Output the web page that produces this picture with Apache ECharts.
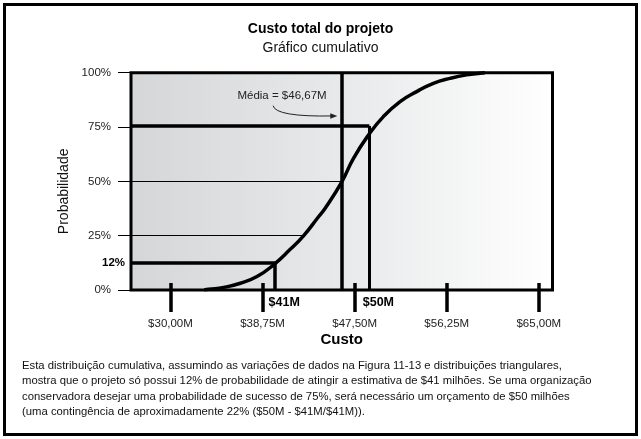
<!DOCTYPE html>
<html><head><meta charset="utf-8">
<script src="https://cdn.jsdelivr.net/npm/echarts@6/dist/echarts.min.js"></script>
<style>html,body{margin:0;padding:0;background:#fff}#c{width:641px;height:439px}</style>
</head><body><div id="c"></div>
<script>
// ---- data ----
const titleText = 'Custo total do projeto';
const subtitleText = 'Gráfico cumulativo';
const xTickValues = [30, 38.75, 47.5, 56.25, 65];
const xTickLabels = ['$30,00M', '$38,75M', '$47,50M', '$56,25M', '$65,00M'];
const yTickValues = [0, 25, 50, 75, 100];
// cumulative curve (cost in $M, probability %)
const curveX = [33.2, 33.63, 35.06, 36.64, 38.22, 39.80, 41.38, 42.64, 44.07, 44.70, 46.28, 47.39, 48.81, 50.23, 51.82, 53.40, 54.98, 56.56, 58.14, 59.88];
const curveP = [0, 0.3, 1.2, 3.1, 6.2, 11.6, 18.7, 24.9, 33.7, 37.6, 49.8, 60.6, 71.3, 79.8, 86.7, 91.3, 95.1, 97.4, 99.0, 100];
const meanCost = 46.28;     const meanLabel = 'Média = $46,67M';
const lowCost = 39.95;      const lowProb = 12.6;  const lowCostLabel = '$41M'; const lowProbLabel = '12%';
const highCost = 48.9;      const highProb = 75.5; const highCostLabel = '$50M';
const grid25Cost = 42.64;   // where 25% line meets curve
const captionLines = [
  'Esta distribuição cumulativa, assumindo as variações de dados na Figura 11-13 e distribuições triangulares,',
  'mostra que o projeto só possui 12% de probabilidade de atingir a estimativa de $41 milhões. Se uma organização',
  'conservadora desejar uma probabilidade de sucesso de 75%, será necessário um orçamento de $50 milhões',
  '(uma contingência de aproximadamente 22% ($50M - $41M/$41M)).'
];
// annotation arrow (data coords): start, control, end
const arrowStart = [39.75, 84.8], arrowCtrl = [40.0, 79.6], arrowEnd = [45.85, 80.1];
// ---- chart ----
const XMIN = 26.25, XMAX = 66.3;
const FONT = "'Liberation Sans', Arial, sans-serif";
const chart = echarts.init(document.getElementById('c'), null, {renderer: 'canvas'});
const thick = {color: '#000', width: 3.5, type: 'solid'};
const mid = {color: '#000', width: 3, type: 'solid'};
const thin = {color: '#000', width: 1, type: 'solid'};
const bold12 = {fontWeight: 'bold', fontSize: 12.5, color: '#000', fontFamily: FONT};
const markData = [
  [{coord: [XMIN, 25], lineStyle: thin}, {coord: [grid25Cost, 25]}],
  [{coord: [XMIN, 50], lineStyle: thin}, {coord: [meanCost, 50]}],
  [{coord: [meanCost, 0], lineStyle: thick}, {coord: [meanCost, 100]}],
  [{coord: [XMIN, highProb], lineStyle: thick}, {coord: [highCost, highProb]}],
  [{coord: [highCost, 0], lineStyle: mid,
    label: Object.assign({show: true, position: 'start', formatter: highCostLabel, offset: [9, 2], distance: 4}, bold12)},
   {coord: [highCost, highProb]}],
  [{coord: [lowCost, 0], lineStyle: thick,
    label: Object.assign({show: true, position: 'start', formatter: lowCostLabel, offset: [9, 2], distance: 4}, bold12)},
   {coord: [lowCost, lowProb]}],
  [{coord: [XMIN, lowProb], lineStyle: thick,
    label: {show: true, position: 'start', formatter: lowProbLabel, fontWeight: 'bold', fontSize: 11.5, color: '#000', fontFamily: FONT, distance: 6}},
   {coord: [lowCost, lowProb]}]
];
const baseGraphic = [
  {id: 'frame', type: 'rect', shape: {x: 4.5, y: 4.5, width: 632, height: 430}, style: {fill: 'none', stroke: '#000', lineWidth: 3}, z: 100},
  {id: 'caption', type: 'text', left: 22, top: 358, style: {text: captionLines.join('\n'), font: "11.3px 'Liberation Sans', Arial, sans-serif", lineHeight: 15.5, fill: '#111'}}
];
chart.setOption({
  animation: false,
  title: {
    text: titleText, subtext: subtitleText, left: 'center', top: 17, itemGap: 5,
    textStyle: {fontFamily: FONT, fontWeight: 'bold', fontSize: 14, color: '#000'},
    subtextStyle: {fontFamily: FONT, fontSize: 14, color: '#111'}
  },
  grid: {left: 131, right: 88.5, top: 72.7, bottom: 149, show: true, borderColor: '#000', borderWidth: 3,
    backgroundColor: new echarts.graphic.LinearGradient(0, 0, 1, 0, [
      {offset: 0, color: '#d5d6d8'}, {offset: 0.5, color: '#e8e9ea'}, {offset: 1, color: '#ffffff'}])},
  xAxis: [{
    type: 'value', min: XMIN, max: XMAX, position: 'bottom',
    name: 'Custo', nameLocation: 'middle', nameGap: 42,
    nameTextStyle: {fontFamily: FONT, fontWeight: 'bold', fontSize: 15, color: '#000'},
    axisLine: {show: false}, splitLine: {show: false},
    axisTick: {show: true, customValues: xTickValues, length: 22, inside: false, lineStyle: {color: '#000', width: 3.5}},
    axisLabel: {customValues: xTickValues, margin: 28, fontFamily: FONT, fontSize: 11.5, color: '#222',
      formatter: v => xTickLabels[xTickValues.indexOf(v)] || ''}
  }, {
    type: 'value', min: XMIN, max: XMAX, position: 'bottom', gridIndex: 0,
    axisLine: {show: false}, splitLine: {show: false}, axisLabel: {show: false},
    axisTick: {show: true, customValues: xTickValues, length: 7, inside: true, lineStyle: {color: '#000', width: 3.5}}
  }],
  yAxis: {
    type: 'value', min: 0, max: 100, interval: 25,
    name: 'Probabilidade', nameLocation: 'middle', nameGap: 47, nameRotate: 90,
    nameTextStyle: {fontFamily: FONT, fontSize: 14, color: '#111', padding: [0, 20, 0, 0]},
    axisLine: {show: false}, splitLine: {show: false},
    axisTick: {show: true, length: 13, lineStyle: {color: '#000', width: 1}},
    axisLabel: {margin: 20, fontFamily: FONT, fontSize: 11.5, color: '#222', formatter: '{value}%'}
  },
  series: [{
    type: 'line', data: curveX.map((x, i) => [x, curveP[i]]), smooth: 0.5, showSymbol: false, silent: true,
    lineStyle: {color: '#000', width: 3.5}, z: 5,
    markLine: {silent: true, symbol: 'none', label: {show: false}, data: markData, z: 4, animation: false},
    markPoint: {silent: true, symbol: 'rect', symbolSize: 0,
      data: [{coord: [40.6, 89.4], label: {show: true, formatter: meanLabel, fontFamily: FONT, fontSize: 11.5, color: '#222', position: 'inside'}}]}
  }],
  graphic: baseGraphic
});
// annotation arrow placed through the chart's own coordinate conversion
const p0 = chart.convertToPixel({gridIndex: 0}, arrowStart);
const p1 = chart.convertToPixel({gridIndex: 0}, arrowCtrl);
const p2 = chart.convertToPixel({gridIndex: 0}, arrowEnd);
chart.setOption({graphic: baseGraphic.concat([
  {id: 'arrowLine', type: 'bezierCurve', z: 50,
   shape: {x1: p0[0], y1: p0[1], cpx1: p1[0], cpy1: p1[1], x2: p2[0] - 4, y2: p2[1]},
   style: {stroke: '#222', lineWidth: 1, fill: 'none'}},
  {id: 'arrowHead', type: 'polygon', z: 50,
   shape: {points: [[p2[0], p2[1]], [p2[0] - 7, p2[1] - 2.8], [p2[0] - 7, p2[1] + 2.8]]},
   style: {fill: '#222'}}
])});
</script></body></html>
